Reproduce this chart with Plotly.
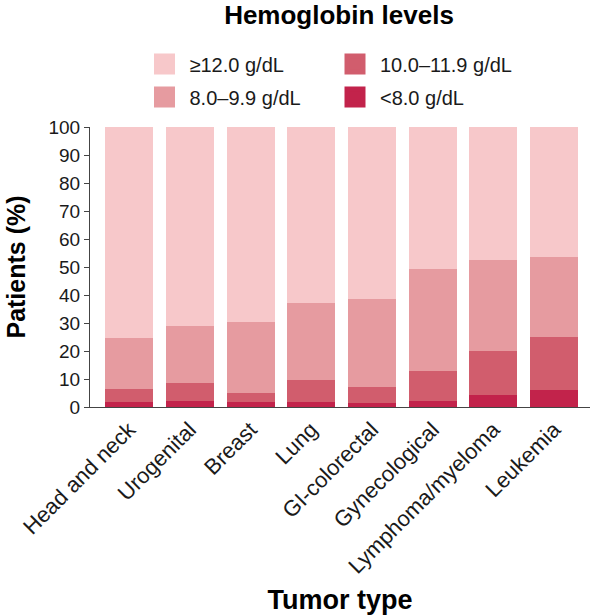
import plotly.graph_objects as go

categories = ["Head and neck", "Urogenital", "Breast", "Lung", "GI-colorectal",
              "Gynecological", "Lymphoma/myeloma", "Leukemia"]
series_names = ["<8.0 g/dL", "10.0–11.9 g/dL", "8.0–9.9 g/dL", "≥12.0 g/dL"]
lt8 = [1.7, 2.3, 1.7, 1.7, 1.5, 2.1, 4.3, 6.0]
hb10_11 = [4.7, 6.3, 3.4, 7.8, 5.8, 10.9, 15.6, 19.0]
hb8_9 = [18.4, 20.3, 25.1, 27.8, 31.3, 36.4, 32.5, 28.5]
ge12 = [75.2, 71.1, 69.8, 62.7, 61.4, 50.6, 47.6, 46.5]
colors = ["#C2234B", "#D15D6D", "#E69BA0", "#F7C8CA"]

series_values = [lt8, hb10_11, hb8_9, ge12]

fig = go.Figure()
for name, vals, col in zip(series_names, series_values, colors):
    fig.add_trace(go.Bar(x=categories, y=vals, name=name, marker=dict(color=col, line=dict(width=0)),
                         showlegend=False))

# legend entries (one per legend so placement matches the 2x2 grid)
legend_map = {"≥12.0 g/dL": "legend", "8.0–9.9 g/dL": "legend2",
              "10.0–11.9 g/dL": "legend3", "<8.0 g/dL": "legend4"}
for name, col in zip(series_names, colors):
    fig.add_trace(go.Scatter(x=[None], y=[None], mode="markers", name=name,
                             marker=dict(symbol="square", size=16, color=col,
                                         line=dict(color=col, width=5)),
                             legend=legend_map[name], showlegend=True, hoverinfo="skip"))

FONT = "Liberation Sans, Arial, sans-serif"
leg_common = dict(font=dict(family=FONT, size=20, color="#1a1a1a"), itemwidth=40,
                  bgcolor="rgba(0,0,0,0)", borderwidth=0, xanchor="left", yanchor="middle",
                  orientation="v")
fig.update_layout(
    width=592, height=615,
    margin=dict(l=90, r=2, t=127, b=208, autoexpand=False),
    paper_bgcolor="white", plot_bgcolor="white",
    barmode="stack", bargap=0.21,
    font=dict(family=FONT, color="#1a1a1a"),
    title=dict(text="<b>Hemoglobin levels</b>", x=0.498, xanchor="center", xref="paper",
               y=1 - 15 / 615, yanchor="middle", yref="container",
               font=dict(family=FONT, size=26, color="black")),
    legend=dict(x=0.099, y=1.225, **leg_common),
    legend2=dict(x=0.099, y=1.107, **leg_common),
    legend3=dict(x=0.48, y=1.225, **leg_common),
    legend4=dict(x=0.48, y=1.107, **leg_common),
    xaxis=dict(range=[-0.643, 7.59], showline=True, linecolor="#444", linewidth=1,
               ticks="", tickangle=-45, tickfont=dict(family=FONT, size=22, color="#1a1a1a"),
               showgrid=False, zeroline=False,
               title=dict(text="<b>Tumor type</b>", font=dict(family=FONT, size=27, color="black"))),
    yaxis=dict(range=[0, 100], dtick=10, showline=True, linecolor="#444", linewidth=1,
               ticks="outside", ticklen=5, tickcolor="#444",
               tickfont=dict(family=FONT, size=19, color="#1a1a1a"),
               showgrid=False, zeroline=False,
               title=dict(text="<b>Patients (%)</b>", font=dict(family=FONT, size=25, color="black"))),
)

fig.write_html("out.html", config={"displayModeBar": False},
               post_script="document.body.style.margin='0';")
